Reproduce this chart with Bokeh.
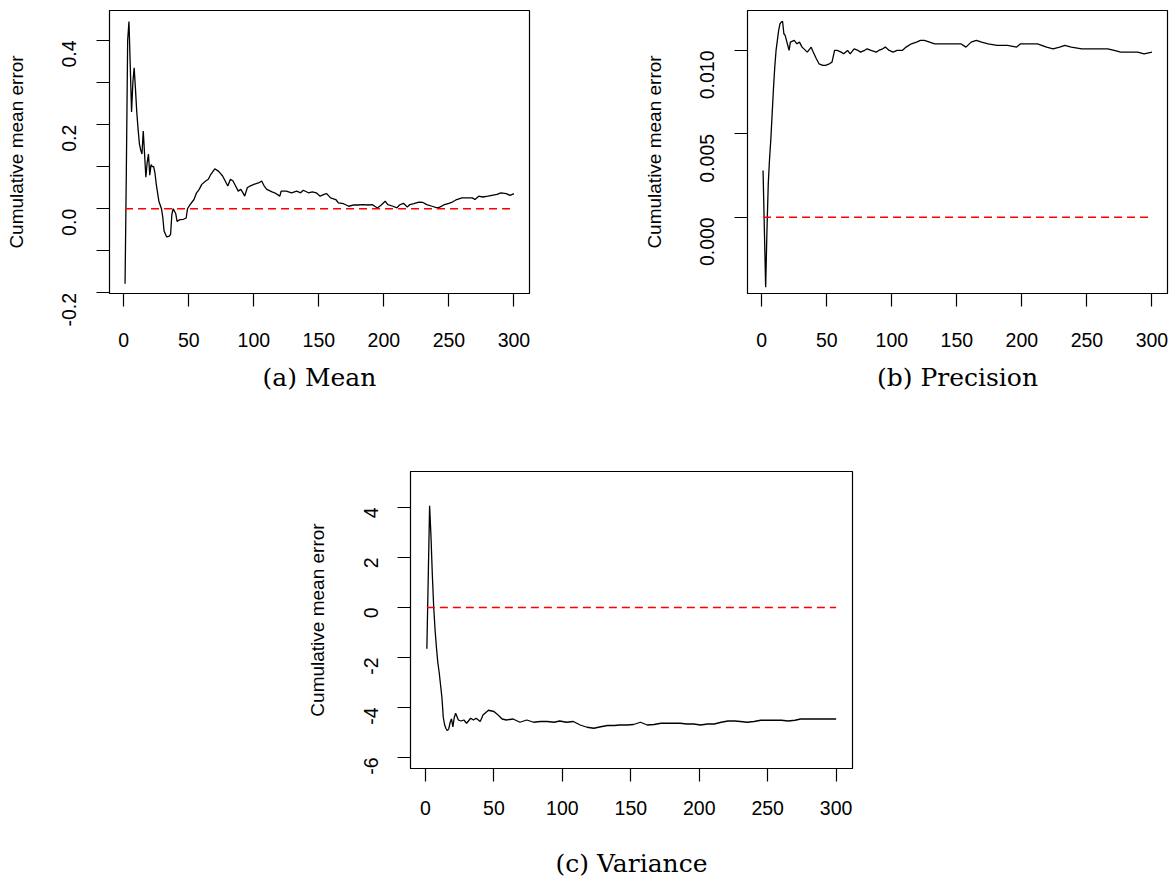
import math
from bokeh.plotting import figure
from bokeh.models import FixedTicker, Range1d
from bokeh.layouts import column, row
from bokeh.embed import file_html
from bokeh.resources import INLINE

# ---------------- data ----------------
x_ticks = [0, 50, 100, 150, 200, 250, 300]
ref_level = 0.0
y_label = "Cumulative mean error"

mean_x = [1, 2, 3, 4, 5, 6, 7, 8, 9, 10, 11, 12, 13, 14, 15, 16, 17, 18, 19, 20,
          21, 22, 23, 24, 25, 27, 29, 30, 31, 33, 35, 36, 37, 38, 40, 41, 43, 46, 48, 49,
          51, 54, 56, 58, 60, 63, 65, 67, 70, 73, 76, 78, 80, 82, 84, 86, 88, 90, 92, 93,
          95, 97, 100, 104, 106, 108, 110, 114, 116, 120, 121, 125, 129, 133, 136, 138, 142, 145, 148, 151,
          154, 156, 159, 163, 165, 169, 173, 177, 180, 184, 188, 191, 195, 198, 201, 203, 207, 210, 212, 215,
          218, 220, 223, 227, 230, 233, 237, 241, 243, 246, 250, 252, 256, 260, 264, 268, 270, 273, 276, 280,
          283, 287, 290, 294, 297, 300]
mean_y = [-0.178, 0.093, 0.40, 0.445, 0.34, 0.23, 0.30, 0.335, 0.285, 0.23, 0.19, 0.155, 0.14, 0.13, 0.185, 0.13, 0.075, 0.11, 0.13, 0.08,
          0.105, 0.10, 0.10, 0.085, 0.058, 0.018, 0.0, -0.02, -0.053, -0.067, -0.065, -0.061, -0.013, 0.0, -0.012, -0.03, -0.026, -0.025, -0.022, 0.0,
          0.01, 0.022, 0.038, 0.046, 0.058, 0.066, 0.07, 0.082, 0.095, 0.089, 0.078, 0.066, 0.054, 0.07, 0.066, 0.054, 0.042, 0.046, 0.036, 0.03,
          0.05, 0.054, 0.058, 0.062, 0.066, 0.054, 0.046, 0.040, 0.038, 0.030, 0.042, 0.042, 0.038, 0.042, 0.038, 0.044, 0.038, 0.040, 0.038, 0.030,
          0.034, 0.036, 0.026, 0.022, 0.014, 0.012, 0.006, 0.009, 0.009, 0.010, 0.009, 0.010, 0.002, 0.009, 0.018, 0.010, 0.006, 0.002, 0.009, 0.013,
          0.004, 0.010, 0.012, 0.016, 0.015, 0.010, 0.006, 0.002, 0.004, 0.009, 0.013, 0.015, 0.022, 0.026, 0.026, 0.026, 0.022, 0.030, 0.028, 0.030,
          0.032, 0.034, 0.038, 0.036, 0.032, 0.036]

prec_x = [1, 2, 3, 4, 5, 6, 7, 8, 9, 10, 11, 12, 13, 14, 15, 16, 17, 18,
          21, 22, 25, 27, 29, 31, 35, 38, 39, 42,
          44, 47, 49, 52, 54, 56, 58, 61, 63, 66,
          68, 71, 74, 76, 79, 81, 84, 88, 90, 93,
          95, 98, 101, 104, 108, 111, 115, 119, 122, 125,
          129, 133, 138, 143, 147, 153, 157, 161, 165, 169,
          174, 181, 189, 196, 199, 206, 212, 219, 224, 229,
          233, 238, 246, 253, 261, 266, 271, 276, 282, 289,
          294, 300]
prec_y = [0.0028, -0.0007, -0.0042, -0.0008, 0.0020, 0.0035, 0.0047, 0.0062, 0.0077, 0.0090, 0.0100, 0.0106, 0.0112, 0.0116, 0.0117, 0.01175, 0.0110, 0.0109,
          0.0100, 0.0105, 0.0106, 0.0104, 0.0105, 0.0102, 0.0099, 0.0102, 0.0100, 0.0095,
          0.0092, 0.0091, 0.0091, 0.0092, 0.0093, 0.0100, 0.0100, 0.0099, 0.0098, 0.0100,
          0.0098, 0.0101, 0.0100, 0.0099, 0.0100, 0.0101, 0.0100, 0.0099, 0.0100, 0.0101,
          0.0102, 0.0100, 0.0099, 0.0100, 0.0100, 0.0102, 0.0104, 0.0105, 0.0106, 0.0106,
          0.0105, 0.0104, 0.0104, 0.0104, 0.0104, 0.0104, 0.0102, 0.0105, 0.0106, 0.0105,
          0.0104, 0.0103, 0.0103, 0.0102, 0.0104, 0.0104, 0.0104, 0.0102, 0.0101, 0.0102,
          0.0103, 0.0102, 0.0101, 0.0101, 0.0101, 0.0101, 0.0100, 0.0099, 0.0099, 0.0099,
          0.0098, 0.0099]

var_x = [1, 2, 3, 4, 5, 6, 7, 8, 9, 10, 11, 12, 13, 14, 15, 16, 17, 18, 19, 20,
         21, 22, 24, 26, 28, 30, 33, 35, 37, 40, 42, 46, 50, 53, 56, 59, 64, 69, 74, 79,
         84, 89, 94, 98, 103, 108, 113, 118, 123, 128, 133, 138, 142, 147, 152, 157, 162, 167, 172, 177,
         182, 186, 191, 196, 201, 206, 211, 216, 221, 226, 230, 235, 240, 245, 250, 255, 260, 265, 270, 274,
         279, 284, 289, 294, 300]
var_y = [-1.65, 1.2, 4.07, 2.85, 1.3, 0.0, -0.9, -1.6, -2.2, -2.6, -3.1, -3.6, -4.4, -4.7, -4.85, -4.93, -4.85, -4.6, -4.45, -4.78,
         -4.4, -4.23, -4.50, -4.54, -4.50, -4.63, -4.43, -4.50, -4.43, -4.56, -4.30, -4.11, -4.16, -4.30, -4.46, -4.50, -4.46, -4.59, -4.50, -4.59,
         -4.56, -4.56, -4.59, -4.54, -4.59, -4.56, -4.70, -4.79, -4.83, -4.77, -4.72, -4.72, -4.70, -4.70, -4.68, -4.59, -4.70, -4.68, -4.63, -4.63,
         -4.63, -4.63, -4.66, -4.66, -4.70, -4.66, -4.66, -4.59, -4.54, -4.54, -4.56, -4.59, -4.56, -4.51, -4.51, -4.51, -4.51, -4.54, -4.51, -4.46,
         -4.46, -4.46, -4.46, -4.46, -4.46]

mean_yticks = [-0.2, -0.1, 0.0, 0.1, 0.2, 0.3, 0.4]
mean_ylabels = ["-0.2", "", "0.0", "", "0.2", "", "0.4"]
prec_yticks = [0.0, 0.005, 0.010]
prec_ylabels = ["0.000", "0.005", "0.010"]
var_yticks = [-6, -4, -2, 0, 2, 4]
var_ylabels = ["-6", "-4", "-2", "0", "2", "4"]

captions = ["(a) Mean", "(b) Precision", "(c) Variance"]

TICK_FONT = "Liberation Sans"
CAP_FONT = "DejaVu Serif"


def make_panel(width, height, mbl, mbr, mbt, mbb, yr, xs, ys, yticks, ylabels, caption,
               x_standoff, cap_standoff):
    p = figure(width=width, height=height, output_backend="svg", toolbar_location=None,
               x_range=Range1d(-10.96, 311.96), y_range=Range1d(yr[0], yr[1]),
               min_border_left=mbl, min_border_right=mbr, min_border_top=mbt, min_border_bottom=mbb)
    p.grid.visible = False
    p.background_fill_color = "white"
    p.border_fill_color = "white"
    p.outline_line_color = "black"
    p.outline_line_width = 1.2
    p.outline_line_alpha = 1.0

    p.line(xs, ys, line_color="black", line_width=1.3)
    p.line([xs[0], xs[-1]], [ref_level, ref_level], line_color="#ff0000",
           line_width=1.5, line_dash="8 5")

    for ax in (p.xaxis[0], p.yaxis[0]):
        ax.axis_line_color = "black"
        ax.major_tick_line_color = "black"
        ax.major_tick_line_width = 1.2
        ax.major_tick_out = 13
        ax.major_tick_in = 0
        ax.minor_tick_line_color = None
        ax.major_label_text_font = TICK_FONT
        ax.major_label_text_font_size = "19.5px"
        ax.major_label_text_color = "black"

    p.xaxis.ticker = FixedTicker(ticks=x_ticks)
    p.xaxis.major_label_standoff = x_standoff
    # sub-figure caption as the x-axis label
    p.xaxis.axis_label = caption
    p.xaxis.axis_label_text_font = CAP_FONT
    p.xaxis.axis_label_text_font_size = "25px"
    p.xaxis.axis_label_text_font_style = "normal"
    p.xaxis.axis_label_text_color = "black"
    p.xaxis.axis_label_standoff = cap_standoff

    p.yaxis.ticker = FixedTicker(ticks=yticks)
    p.yaxis.major_label_overrides = {t: l for t, l in zip(yticks, ylabels)}
    p.yaxis.major_label_orientation = math.pi / 2
    p.yaxis.major_label_standoff = 27
    p.yaxis.axis_label = y_label
    p.yaxis.axis_label_text_font = TICK_FONT
    p.yaxis.axis_label_text_font_size = "19px"
    p.yaxis.axis_label_text_font_style = "normal"
    p.yaxis.axis_label_text_color = "black"
    p.yaxis.axis_label_standoff = 26
    return p


pA = make_panel(640, 440, 109, 111, 10, 147, (-0.2014, 0.4713),
                mean_x, mean_y, mean_yticks, mean_ylabels, captions[0], 26, 13)
pB = make_panel(529, 440, 106, 2, 10, 147, (-0.004569, 0.012395),
                prec_x, prec_y, prec_yticks, prec_ylabels, captions[1], 26, 13)
pC = make_panel(860, 444, 410, 8, 31, 116, (-6.44, 5.44),
                var_x, var_y, var_yticks, var_ylabels, captions[2], 19, 31)

layout = column(row(pA, pB, spacing=0), pC, spacing=0)

with open("out.html", "w") as f:
    f.write(file_html(layout, INLINE))
